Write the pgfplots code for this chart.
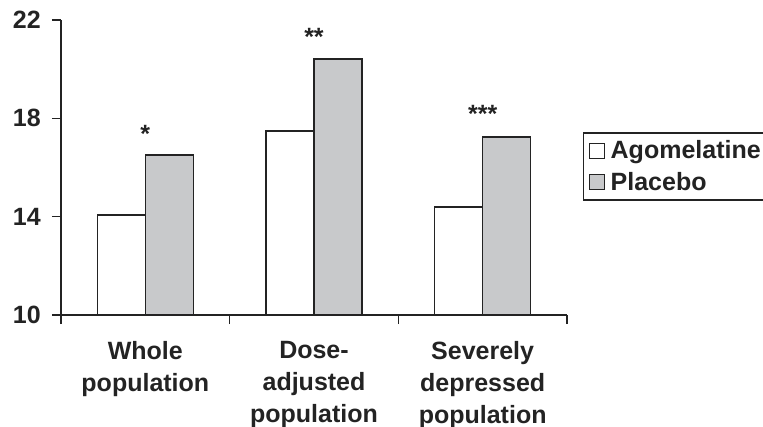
\documentclass[border=0pt]{standalone}
\usepackage{fontspec}
\setmainfont{Liberation Sans}
\usepackage{pgfplots}
\pgfplotsset{compat=1.18}
\definecolor{barg}{RGB}{200,201,203}
\definecolor{ln}{RGB}{35,35,35}
\newcommand{\bigf}{\fontsize{25}{32}\selectfont\bfseries}
\begin{document}
\begin{tikzpicture}[x=1pt,y=1pt]
\begin{axis}[
  at={(61pt,111pt)}, anchor=south west,
  scale only axis, width=506pt, height=295pt,
  xmin=-0.5, xmax=2.5, ymin=10, ymax=22,
  axis x line*=bottom, axis y line*=left,
  axis line style={ln, line width=1.6pt, -},
  ytick={10,14,18,22},
  xtick={-0.5,0.5,1.5,2.5}, xticklabels={},
  tick align=outside, major tick length=9pt,
  tick style={ln, line width=1.6pt},
  /pgf/number format/assume math mode=true,
  yticklabel style={font=\bigf, text=ln, inner xsep=11pt},
  extra x ticks={0,1,2},
  extra x tick labels={{Whole\\population},{Dose-\\adjusted\\population},{Severely\\depressed\\population}},
  extra x tick style={major tick length=0pt, tick style={draw=none},
     xticklabel style={align=center, font=\bigf, text=ln, yshift=-23pt}},
  ybar, bar width=0.2846, 
  legend style={at={(1.0316,0.5034)}, anchor=west, draw=ln, line width=1.4pt,
     font=\bigf, text=ln, inner xsep=4pt, inner ysep=6pt, row sep=8pt},
  legend cell align=left,
  legend image code/.code={\path[draw=none,fill=none] (0pt,0pt) -- (21pt,0pt);
     \draw[#1, line width=1.2pt] (2pt,-7.5pt) rectangle (17pt,7.5pt);},
]
\addplot[draw=ln, fill=white, line width=1.6pt, bar shift=-0.1423] coordinates {(0,14.07) (1,17.48) (2,14.39)};
\addlegendentry{Agomelatine}
\addplot[draw=ln, fill=barg, line width=1.6pt, bar shift=0.1423] coordinates {(0,16.5) (1,20.42) (2,17.24)};
\addlegendentry{Placebo}
\node[font=\bigf, text=ln] at (axis cs:0,17.35) {*};
\node[font=\bigf, text=ln] at (axis cs:1,21.3) {**};
\node[font=\bigf, text=ln] at (axis cs:2,18.2) {***};
\end{axis}
\pgfresetboundingbox
\useasboundingbox (0,0) rectangle (763,426);
\end{tikzpicture}
\end{document}
